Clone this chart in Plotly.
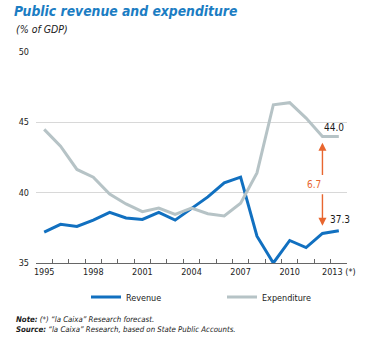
import plotly.graph_objects as go

years = [str(y) for y in range(1995, 2014)]
revenue = [37.2, 37.75, 37.6, 38.05, 38.6, 38.2, 38.1, 38.6, 38.05, 38.9,
           39.7, 40.7, 41.1, 36.9, 35.0, 36.6, 36.1, 37.1, 37.3]
expenditure = [44.5, 43.3, 41.65, 41.1, 39.9, 39.2, 38.65, 38.9, 38.45, 38.9,
               38.5, 38.35, 39.25, 41.4, 46.25, 46.4, 45.3, 44.0, 44.0]
label_years = ["1995", "1998", "2001", "2004", "2007", "2010", "2013"]
tick_text = [(y + " (*)" if y == "2013" else y) if y in label_years else "" for y in years]
gap_value = 6.7

FONT = "Liberation Sans Narrow, DejaVu Sans Condensed, Roboto, Arial"
BLUE = "#1170c0"
GRAY = "#b6c3c6"
ORANGE = "#e8662f"
W, H = 367, 338

fig = go.Figure()
fig.add_trace(go.Scatter(x=years, y=revenue, name="Revenue", mode="lines",
                         line=dict(color=BLUE, width=3), cliponaxis=False))
fig.add_trace(go.Scatter(x=years, y=expenditure, name="Expenditure", mode="lines",
                         line=dict(color=GRAY, width=3), cliponaxis=False))

i_last = len(years) - 1
i_prev = len(years) - 2

ann = []
# end labels
ann.append(dict(x=i_last, y=expenditure[-1], xref="x", yref="y", text=f"{expenditure[-1]:.1f}",
                showarrow=False, xshift=-5, yshift=9, font=dict(size=10, color="#1a1a1a", family=FONT)))
ann.append(dict(x=i_last, y=revenue[-1], xref="x", yref="y", text=f"{revenue[-1]:.1f}",
                showarrow=False, xshift=1, yshift=11, font=dict(size=10, color="#1a1a1a", family=FONT)))
# gap arrows
ann.append(dict(x=i_prev, y=43.55, ax=i_prev, ay=41.15, xref="x", yref="y", axref="x", ayref="y",
                showarrow=True, arrowhead=2, arrowsize=1.15, arrowwidth=1.4, arrowcolor=ORANGE,
                standoff=0, startstandoff=0, text=""))
ann.append(dict(x=i_prev, y=37.65, ax=i_prev, ay=40.0, xref="x", yref="y", axref="x", ayref="y",
                showarrow=True, arrowhead=2, arrowsize=1.15, arrowwidth=1.4, arrowcolor=ORANGE,
                standoff=0, startstandoff=0, text=""))
ann.append(dict(x=i_prev, y=40.55, xref="x", yref="y", text=f"{gap_value}", showarrow=False,
                xshift=-8, font=dict(size=10, color=ORANGE, family=FONT)))

def px_x(p):
    return (p - 36) / 311.0

def px_y(p):
    return (263 - p) / 211.0

ann.append(dict(x=px_x(14), y=px_y(29), xref="paper", yref="paper", xanchor="left", yanchor="middle",
                text="<i>(% of GDP)</i>", showarrow=False, font=dict(size=10.5, color="#1a1a1a", family=FONT)))
ann.append(dict(x=px_x(14), y=px_y(324.5), xref="paper", yref="paper", xanchor="left", yanchor="middle",
                align="left",
                text="<b><i>Note:</i></b><i> (*) \u201cla Caixa\u201d Research forecast.</i><br>"
                     "<b><i>Source:</i></b><i> \u201cla Caixa\u201d Research, based on State Public Accounts.</i>",
                showarrow=False, font=dict(size=7.8, color="#1a1a1a", family=FONT)))

fig.update_layout(
    width=W, height=H,
    margin=dict(l=36, r=20, t=52, b=75),
    paper_bgcolor="white", plot_bgcolor="white",
    font=dict(family=FONT, size=9, color="#222"),
    title=dict(text="<b><i>Public revenue and expenditure</i></b>", x=14 / W, xanchor="left",
               xref="container", y=1 - 11 / H, yanchor="middle", yref="container",
               font=dict(size=13.8, color="#1b7dc3", family=FONT)),
    showlegend=True,
    legend=dict(orientation="h", xref="container", yref="container", x=86 / W, y=1 - 297 / H,
                xanchor="left", yanchor="middle", font=dict(size=9, color="#222", family=FONT),
                entrywidth=91, entrywidthmode="pixels", bgcolor="rgba(0,0,0,0)"),
    annotations=ann,
    xaxis=dict(type="category", tickmode="array", tickvals=years, ticktext=tick_text,
               tickson="boundaries", ticks="inside", ticklen=4, tickcolor="#666", tickwidth=1,
               showline=True, linecolor="#666", linewidth=1, showgrid=False, tickangle=0,
               automargin=False,
               range=[-0.5, len(years) - 0.5], tickfont=dict(size=9, color="#222")),
    yaxis=dict(range=[35, 50], tickvals=[35, 40, 45, 50], showgrid=True, gridcolor="#d8d8d8",
               gridwidth=1, zeroline=False, showline=False, ticks="", ticklabelstandoff=6,
               automargin=False, tickfont=dict(size=9, color="#222")),
)

fig.write_html("out.html")
